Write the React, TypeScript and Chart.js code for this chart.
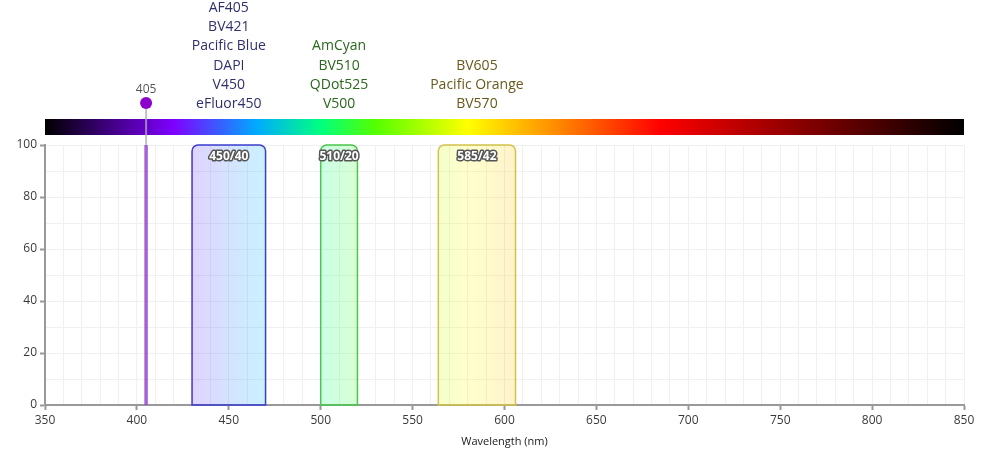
import React, { useEffect, useRef } from 'react';
import { Chart, registerables } from 'chart.js';

Chart.register(...registerables);

// ---------- data ----------
const filterNames = ['450/40', '510/20', '585/42'];
const filterCenters = [450, 510, 585];
const filterBandwidths = [40, 20, 42];
const filterTransmission = [100, 100, 100];
const filterBorderColors = ['#3c3cce', '#4cc64c', '#d2c24c'];
const fluorochromes = [
  ['AF405', 'BV421', 'Pacific Blue', 'DAPI', 'V450', 'eFluor450'],
  ['AmCyan', 'BV510', 'QDot525', 'V500'],
  ['BV605', 'Pacific Orange', 'BV570'],
];
const fluorColors = ['#2f316c', '#2a681d', '#695a1c'];
const laserWavelengths = [405];
const laserPower = [100];
const xRange = [350, 850];
const yRange = [0, 100];

// spectrum colour stops (wavelength nm, rgb)
const spectrumWavelengths = [350, 420, 465, 500, 530, 580, 685, 850];
const spectrumColors: number[][] = [
  [0, 0, 0],
  [127, 0, 255],
  [0, 170, 255],
  [0, 255, 128],
  [85, 255, 0],
  [255, 255, 0],
  [255, 0, 0],
  [0, 0, 0],
];

function spectrum(w: number): number[] {
  if (w <= spectrumWavelengths[0]) return spectrumColors[0];
  for (let i = 1; i < spectrumWavelengths.length; i++) {
    if (w <= spectrumWavelengths[i]) {
      const t = (w - spectrumWavelengths[i - 1]) / (spectrumWavelengths[i] - spectrumWavelengths[i - 1]);
      const a = spectrumColors[i - 1], b = spectrumColors[i];
      return [0, 1, 2].map((k) => Math.round(a[k] + (b[k] - a[k]) * t));
    }
  }
  return spectrumColors[spectrumColors.length - 1];
}
const rgba = (c: number[], a: number) => `rgba(${c[0]},${c[1]},${c[2]},${a})`;

const FONT = '"Open Sans", "Noto Sans", sans-serif';

const overlayPlugin = {
  id: 'overlay',
  beforeDatasetsDraw(chart: any) {
    const { ctx, scales } = chart;
    const x = scales.x, y = scales.y;
    filterNames.forEach((name, i) => {
      const lo = filterCenters[i] - filterBandwidths[i] / 2;
      const hi = filterCenters[i] + filterBandwidths[i] / 2;
      const x0 = x.getPixelForValue(lo);
      const x1 = x.getPixelForValue(hi);
      const yTop = y.getPixelForValue(filterTransmission[i]);
      const yBot = y.getPixelForValue(0);
      const g = ctx.createLinearGradient(x0, 0, x1, 0);
      for (let k = 0; k <= 10; k++) {
        const w = lo + ((hi - lo) * k) / 10;
        g.addColorStop(k / 10, rgba(spectrum(w), 0.2));
      }
      ctx.save();
      ctx.beginPath();
      ctx.roundRect(x0, yTop, x1 - x0, yBot - yTop, [6, 6, 0, 0]);
      ctx.fillStyle = g;
      ctx.fill();
      ctx.strokeStyle = filterBorderColors[i];
      ctx.lineWidth = 1.5;
      ctx.stroke();
      const cx = (x0 + x1) / 2;
      ctx.font = `bold 12px ${FONT}`;
      ctx.textAlign = 'center';
      ctx.textBaseline = 'middle';
      ctx.lineJoin = 'round';
      ctx.lineWidth = 3;
      ctx.strokeStyle = '#555';
      ctx.strokeText(name, cx, yTop + 12);
      ctx.fillStyle = '#fff';
      ctx.fillText(name, cx, yTop + 12);
      ctx.restore();
    });
  },
  afterDraw(chart: any) {
    const { ctx, chartArea, scales } = chart;
    const x = scales.x, y = scales.y;
    const barTop = chartArea.top - 26;
    const barH = 16;
    ctx.save();
    // spectrum bar
    const g = ctx.createLinearGradient(chartArea.left, 0, chartArea.right, 0);
    for (let w = xRange[0]; w <= xRange[1]; w += 5) {
      g.addColorStop((w - xRange[0]) / (xRange[1] - xRange[0]), rgba(spectrum(w), 1));
    }
    ctx.fillStyle = g;
    ctx.fillRect(chartArea.left, barTop, chartArea.right - chartArea.left, barH);

    // lasers
    laserWavelengths.forEach((lw, i) => {
      const px = x.getPixelForValue(lw);
      const my = barTop - 16;
      ctx.strokeStyle = 'rgba(175,175,175,0.75)';
      ctx.lineWidth = 2;
      ctx.beginPath();
      ctx.moveTo(px, my);
      ctx.lineTo(px, y.getPixelForValue(laserPower[i]));
      ctx.stroke();
      ctx.fillStyle = '#8b00cc';
      ctx.beginPath();
      ctx.arc(px, my, 6, 0, Math.PI * 2);
      ctx.fill();
      ctx.fillStyle = '#555';
      ctx.font = `12px ${FONT}`;
      ctx.textAlign = 'center';
      ctx.textBaseline = 'middle';
      ctx.fillText(String(lw), px, my - 13);
    });

    // fluorochrome labels
    ctx.font = `500 14px ${FONT}`;
    ctx.textAlign = 'center';
    ctx.textBaseline = 'middle';
    fluorochromes.forEach((names, i) => {
      const cx = x.getPixelForValue(filterCenters[i]);
      ctx.fillStyle = fluorColors[i];
      const n = names.length;
      names.forEach((nm, j) => {
        const yy = barTop - 15 - (n - 1 - j) * 19.2;
        ctx.fillText(nm, cx, yy);
      });
    });
    ctx.restore();
  },
};

export default function App() {
  const ref = useRef<HTMLCanvasElement>(null);
  useEffect(() => {
    if (!ref.current) return;
    Chart.defaults.font.family = FONT;
    const chart = new Chart(ref.current, {
      type: 'line',
      data: {
        datasets: laserWavelengths.map((lw, i) => ({
          label: `${lw} nm laser`,
          data: [
            { x: lw, y: 0 },
            { x: lw, y: laserPower[i] },
          ],
          borderColor: 'rgba(150,70,210,0.85)',
          borderWidth: 3.5,
          pointRadius: 0,
          fill: false,
        })),
      },
      options: {
        responsive: false,
        animation: false,
        layout: { padding: { top: 145, right: 26, left: 0, bottom: 0 } },
        plugins: { legend: { display: false }, tooltip: { enabled: false } },
        scales: {
          x: {
            type: 'linear',
            min: xRange[0],
            max: xRange[1],
            afterFit: (s: any) => { s.height = 50; },
            ticks: {
              stepSize: 10,
              autoSkip: false,
              maxRotation: 0,
              color: '#3a3a3a',
              font: { size: 12 },
              padding: 3,
              callback: (v: any) => (Number(v) % 50 === 0 ? String(v) : ''),
            },
            grid: {
              color: '#f0f0f0',
              lineWidth: 1,
              tickLength: 5,
              tickColor: (c: any) => (c.tick && c.tick.value % 50 === 0 ? '#999' : 'rgba(0,0,0,0)'),
              tickWidth: 2,
            },
            border: { color: '#999', width: 2 },
            title: {
              display: true,
              text: 'Wavelength (nm)',
              color: '#1a1a1a',
              font: { size: 11, weight: 500 },
              padding: { top: 4, bottom: 7 },
            },
          },
          y: {
            type: 'linear',
            min: yRange[0],
            max: yRange[1],
            afterFit: (s: any) => { s.width = 45; },
            ticks: {
              stepSize: 10,
              autoSkip: false,
              color: '#3a3a3a',
              font: { size: 12 },
              padding: 3,
              callback: (v: any) => (Number(v) % 20 === 0 ? String(v) : ''),
            },
            grid: {
              color: '#f0f0f0',
              lineWidth: 1,
              tickLength: 5,
              tickColor: (c: any) => (c.tick && c.tick.value % 20 === 0 ? '#999' : 'rgba(0,0,0,0)'),
              tickWidth: 2,
            },
            border: { color: '#999', width: 2 },
          },
        },
      },
      plugins: [overlayPlugin],
    });
    return () => chart.destroy();
  }, []);
  return (
    <div style={{ position: 'absolute', left: 0, top: 0, width: 990, height: 455, background: '#fff' }}>
      <canvas ref={ref} width={990} height={455} />
    </div>
  );
}
